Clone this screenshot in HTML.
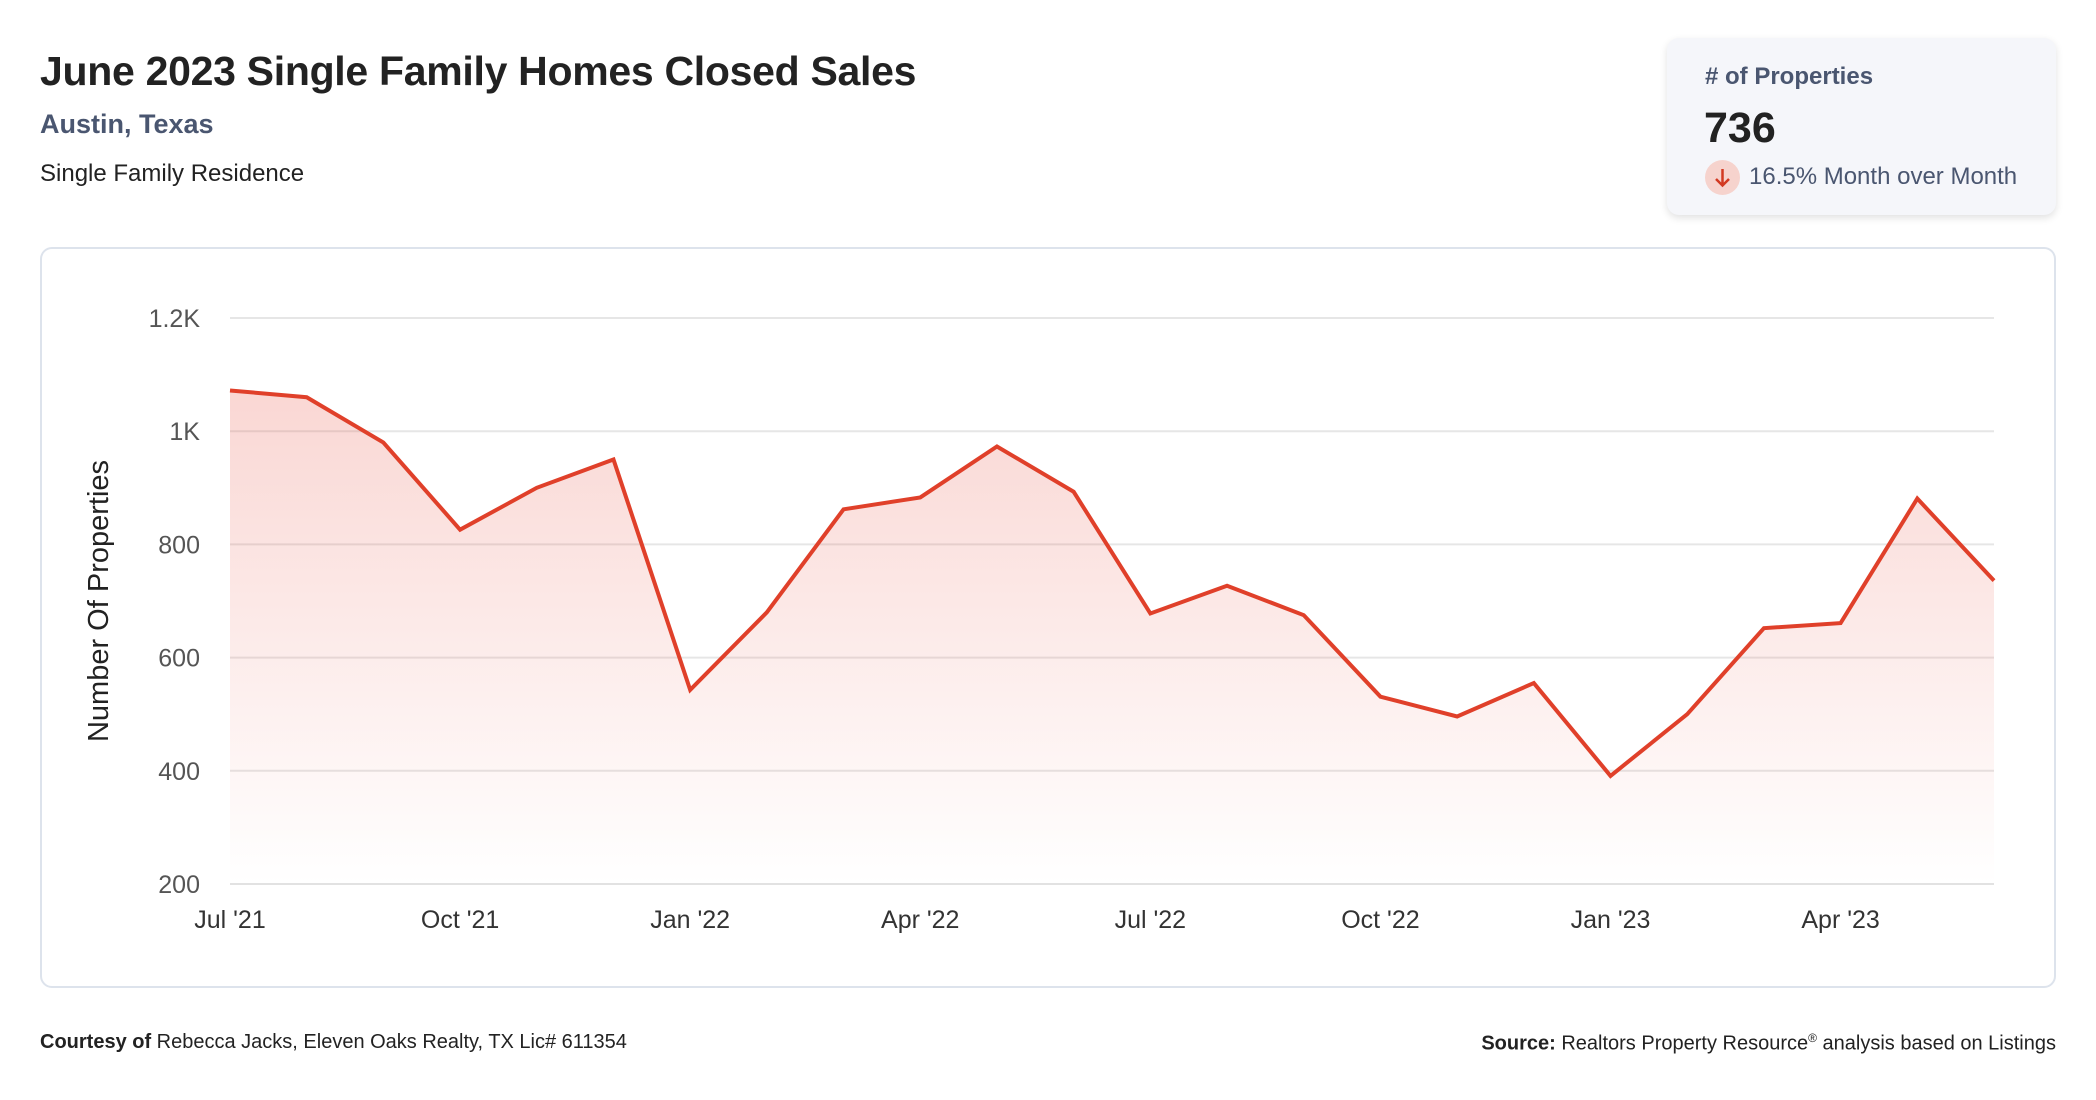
<!DOCTYPE html>
<html><head><meta charset="utf-8"><style>
html,body{margin:0;padding:0;background:#fff;width:2096px;height:1100px;overflow:hidden;font-family:"Liberation Sans",sans-serif;}
.abs{position:absolute;white-space:nowrap;}
</style></head><body>
<div style="position:relative;width:2096px;height:1100px;">
<div class="abs" style="left:40px;top:48px;font-size:41px;font-weight:bold;color:#222;letter-spacing:-0.3px;">June 2023 Single Family Homes Closed Sales</div>
<div class="abs" style="left:40px;top:109px;font-size:27px;font-weight:bold;color:#4a5670;">Austin, Texas</div>
<div class="abs" style="left:40px;top:160px;font-size:24px;color:#222;">Single Family Residence</div>

<div class="abs" style="left:1667px;top:38px;width:389px;height:177px;background:#f5f6fa;border-radius:12px;box-shadow:0 3px 8px rgba(0,0,0,0.12);">
  <div class="abs" style="left:38px;top:25px;font-size:24px;font-weight:bold;color:#4a5670;"># of Properties</div>
  <div class="abs" style="left:37px;top:66px;font-size:43px;font-weight:bold;color:#222;">736</div>
  <div class="abs" style="left:38px;top:122px;width:35px;height:35px;border-radius:50%;background:#f6d3cd;">
    <svg width="35" height="35" viewBox="0 0 35 35"><path d="M17.5 9 V25 M11 19 L17.5 25.5 L24 19" stroke="#d23a22" stroke-width="2.5" fill="none"/></svg>
  </div>
  <div class="abs" style="left:82px;top:125px;font-size:24px;color:#4a5670;">16.5% Month over Month</div>
</div>

<div class="abs" style="left:40px;top:247px;width:2012px;height:737px;border:2px solid #dde3ec;border-radius:12px;"></div>

<svg id="chart" class="abs" style="left:0;top:0;" width="2096" height="1100">
  <defs>
    <linearGradient id="fillg" x1="0" y1="0" x2="0" y2="1">
      <stop offset="0" stop-color="#e8584a" stop-opacity="0.24"/>
      <stop offset="1" stop-color="#e8584a" stop-opacity="0.0"/>
    </linearGradient>
  </defs>
  <g id="grid"></g><g id="area"></g><g id="lines"></g><g id="labels"></g>
  <text transform="translate(108,601) rotate(-90)" text-anchor="middle" font-size="29" fill="#222" font-family="Liberation Sans, sans-serif">Number Of Properties</text>
</svg>

<div class="abs" style="left:40px;top:1031px;font-size:20px;color:#222;"><b>Courtesy of</b> Rebecca Jacks, Eleven Oaks Realty, TX Lic# 611354</div>
<div class="abs" style="right:40px;top:1031px;font-size:20px;color:#222;"><b>Source:</b> Realtors Property Resource<sup style="font-size:12px;">®</sup> analysis based on Listings</div>
</div>
<script>
const months = ["Jul '21","Aug '21","Sep '21","Oct '21","Nov '21","Dec '21","Jan '22","Feb '22","Mar '22","Apr '22","May '22","Jun '22","Jul '22","Aug '22","Sep '22","Oct '22","Nov '22","Dec '22","Jan '23","Feb '23","Mar '23","Apr '23","May '23","Jun '23"];
const sales = [1072,1060,980,826,900,950,543,680,862,883,973,893,678,727,675,531,496,555,391,500,652,661,881,736];
const yTicks = [200,400,600,800,1000,1200];
const yTickLabels = ["200","400","600","800","1K","1.2K"];
const xTickIdx = [0,3,6,9,12,15,18,21];

const NS="http://www.w3.org/2000/svg";
const x0=230,x1=1994,yTop=318,yBot=884,vMin=200,vMax=1200;
const xs=i=>x0+(x1-x0)*i/(months.length-1);
const ys=v=>yBot-(v-vMin)/(vMax-vMin)*(yBot-yTop);
function mk(tag,attrs,parent){const e=document.createElementNS(NS,tag);for(const k in attrs)e.setAttribute(k,attrs[k]);parent.appendChild(e);return e;}
const grid=document.getElementById('grid'),area=document.getElementById('area'),lines=document.getElementById('lines'),labels=document.getElementById('labels');
yTicks.forEach((t,i)=>{
  const l=mk('line',{x1:x0,x2:x1,y1:ys(t),y2:ys(t),stroke:i===0?'#e2e2e2':'#e6e6e6','stroke-width':2},grid);
  
  
  const tx=mk('text',{x:200,y:ys(t)+9,'text-anchor':'end','font-size':25,fill:'#555','font-family':'Liberation Sans, sans-serif'},labels);
  tx.textContent=yTickLabels[i];
  
  
});
xTickIdx.forEach(i=>{
  const tx=mk('text',{x:xs(i),y:928,'text-anchor':'middle','font-size':25,fill:'#333','font-family':'Liberation Sans, sans-serif'},labels);
  tx.textContent=months[i];
  
  
});
const pts=sales.map((v,i)=>xs(i)+','+ys(v)).join(' ');
const a=mk('polygon',{points:x0+','+yBot+' '+pts+' '+x1+','+yBot,fill:'url(#fillg)'},area);


const p=mk('polyline',{points:pts,fill:'none',stroke:'#e0402a','stroke-width':4,'stroke-linejoin':'miter'},lines);


</script>
</body></html>
